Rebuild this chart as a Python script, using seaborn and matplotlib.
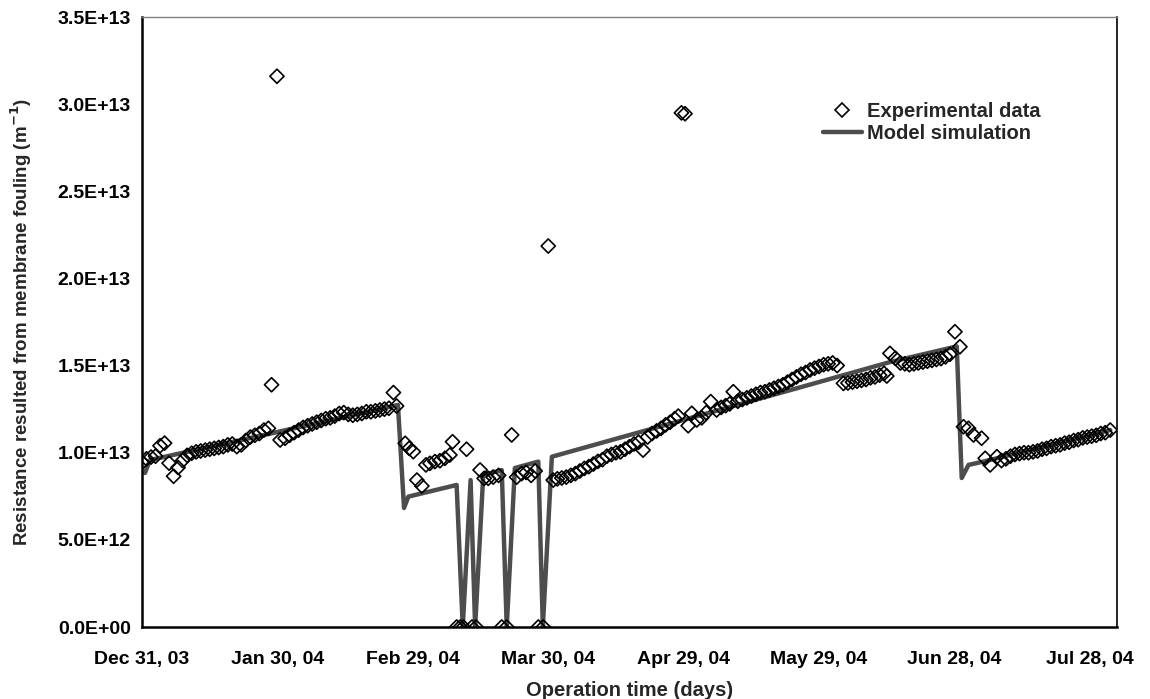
import numpy as np
import pandas as pd
import matplotlib
matplotlib.use("Agg")
import matplotlib.pyplot as plt
import seaborn as sns
from matplotlib.lines import Line2D
from matplotlib.ticker import FuncFormatter

# ---------------- data (days since Dec 31, 2003; values in 1e12 m^-1) ----------------
exp_days = [0, 1, 2, 3, 4, 5, 6, 7, 8, 9, 10,
            11, 12, 13, 14, 15, 16, 17, 18, 19, 20, 21, 22, 23, 24, 25, 26, 27, 28, 28.7, 29.9, 30.6,
            31.7, 32.7, 33.7, 34.7, 35.7, 36.7, 37.7, 38.7, 39.7, 40.7, 41.7, 42.7, 43.7, 44.7, 45.7,
            46.7, 47.7, 48.7, 49.7, 50.7, 51.7, 52.7, 53.7, 54.7, 55.7, 56.4,
            58.3, 59.2, 60.1, 60.9, 62.0, 62.9, 63.8, 64.9, 66.0, 67.1, 68.2, 68.8,
            69.7, 70.5, 71.2, 71.9, 73.1, 74.0, 74.9, 75.8, 76.7, 77.8, 79.0, 79.7, 80.8,
            81.9, 83.0, 84.1, 85.1, 86.2, 87.1, 87.8, 88.9, 90.0,
            91.1, 92, 93, 94, 95, 96, 97, 98, 99, 100, 101, 102, 103, 104, 105, 106, 107, 108,
            109, 110, 111, 112, 113, 114, 115, 116, 117, 118, 118.8, 119.5, 120.3, 121, 121.8,
            122.9, 124, 125, 126, 127.3, 128.3, 129.3, 130.2, 131, 132, 133, 134, 135, 136, 137,
            138, 139, 140, 141, 142, 143, 144, 145, 146, 147, 148, 149, 150, 151, 152, 153, 154,
            155.4, 156.4, 157.4, 158.4, 159.4, 160.4, 161.4, 162.4, 163.4, 164.4, 165, 165.7, 166.9,
            168, 169, 170, 171, 172, 173, 174, 175, 176, 177, 178, 179, 180.1, 181.2,
            182, 183.1, 184.2, 186, 186.8, 187.9,
            189.4, 190.4, 191.4, 192.4, 193.4, 194.4, 195.4, 196.4, 197.4, 198.4, 199.4, 200.4,
            201.4, 202.4, 203.4, 204.4, 205.4, 206.4, 207.4, 208.4, 209.4, 210.4, 211.4, 212.4,
            213.4, 214.5]
exp_values = [9.45, 9.65, 9.75, 9.8, 10.4, 10.55, 9.4, 8.65, 9.15, 9.55, 9.85,
              9.97, 10.05, 10.1, 10.15, 10.2, 10.25, 10.3, 10.35, 10.45, 10.5, 10.35, 10.45, 10.7,
              10.9, 11.0, 11.1, 11.3, 11.4, 13.9, 31.6, 10.73,
              10.83, 11.0, 11.15, 11.3, 11.45, 11.55, 11.65, 11.75, 11.85, 11.95, 12.0, 12.1, 12.25,
              12.3, 12.2, 12.15, 12.2, 12.25, 12.35, 12.35, 12.4, 12.45, 12.5, 12.55, 13.45, 12.68,
              10.54, 10.25, 10.06, 8.43, 8.09, 9.30, 9.39, 9.49, 9.54, 9.68, 9.87, 10.63,
              0, 0, 0, 10.2, 0, 0, 9.01, 8.53, 8.53, 8.6, 8.7, 0, 0,
              11.02, 8.6, 8.8, 8.87, 8.7, 8.95, 0, 0, 21.86,
              8.43, 8.5, 8.55, 8.6, 8.7, 8.8, 8.95, 9.1, 9.2, 9.35, 9.5, 9.6, 9.8, 9.9, 10.0, 10.05,
              10.2, 10.35, 10.5, 10.6, 10.15, 10.9, 11.1, 11.25, 11.4, 11.6, 11.75, 11.95, 12.1,
              29.5, 29.45, 11.55, 12.26,
              11.88, 12.0, 12.3, 12.93, 12.45, 12.6, 12.7, 12.8, 13.5, 12.95, 13.05, 13.15, 13.25,
              13.35, 13.45, 13.5, 13.6, 13.7, 13.8, 13.9, 14.05, 14.2, 14.35, 14.5, 14.6, 14.75,
              14.85, 14.95, 15.05, 15.1, 15.15, 15.0,
              13.98, 14.0, 14.05, 14.1, 14.15, 14.2, 14.3, 14.35, 14.45, 14.55, 14.4, 15.7, 15.42,
              15.15, 15.1, 15.05, 15.1, 15.15, 15.2, 15.25, 15.3, 15.35, 15.4, 15.5, 15.65, 16.94,
              16.08, 11.49, 11.4, 11.02, 10.83, 9.68, 9.3,
              9.77, 9.55, 9.65, 9.8, 9.9, 9.95, 10.0, 10.0, 10.05, 10.1, 10.2, 10.25,
              10.35, 10.4, 10.45, 10.55, 10.6, 10.7, 10.75, 10.85, 10.9, 10.95, 11.0, 11.1,
              11.15, 11.3]

model_days = [0.66, 1.77, 29.0, 56.7, 58.05, 59.0, 69.7, 71.06, 72.8, 73.8, 75.6, 79.7, 80.8,
              82.6, 87.8, 88.8, 90.8, 145.8, 165.7, 180.5, 181.6, 183.1, 186.4, 214.5]
model_values = [8.84, 9.58, 11.13, 12.74, 6.83, 7.48, 8.15, 0.0, 8.43, 0.0, 8.72, 9.0, 0.0,
                9.12, 9.49, 0.0, 9.77, 13.75, 15.2, 16.1, 8.55, 9.3, 9.49, 11.3]

tick_days = [0, 30, 60, 90, 120, 150, 180, 210]
tick_labels = ["Dec 31, 03", "Jan 30, 04", "Feb 29, 04", "Mar 30, 04",
               "Apr 29, 04", "May 29, 04", "Jun 28, 04", "Jul 28, 04"]

# ---------------- plotting ----------------
sns.set_theme(style="white")
plt.rcParams["font.family"] = ["Liberation Sans", "DejaVu Sans"]
plt.rcParams["font.weight"] = "bold"

exp_df = pd.DataFrame({"day": exp_days, "R": np.array(exp_values) * 1e12})
mod_df = pd.DataFrame({"day": model_days, "R": np.array(model_values) * 1e12})

fig = plt.figure(figsize=(11.5, 6.99), dpi=100)
ax = fig.add_axes([142 / 1150, 1 - 627 / 699, (1117 - 142) / 1150, (627 - 17) / 699])

line_color = "#4d4d4d"
sns.lineplot(data=mod_df, x="day", y="R", ax=ax, color=line_color, linewidth=3.2,
             estimator=None, sort=False, zorder=2)
sns.scatterplot(data=exp_df, x="day", y="R", ax=ax, marker="D", s=52,
                facecolors="none", edgecolor="black", linewidth=1.2, zorder=3)

ax.set_xlim(0, 216)
ax.set_ylim(0, 3.5e13)
ax.set_xticks(tick_days)
ax.set_xticklabels(tick_labels)
ax.set_yticks(np.arange(0, 3.51e13, 0.5e13))
ax.yaxis.set_major_formatter(FuncFormatter(lambda v, p: f"{v:.1E}"))

ax.tick_params(axis="both", direction="in", length=6, width=1, color="#555555",
               labelsize=14, labelcolor="black")
ax.tick_params(axis="y", pad=8)
ax.tick_params(axis="x", pad=17)
for lab in ax.get_xticklabels() + ax.get_yticklabels():
    lab.set_fontweight("bold")

for side in ["left", "bottom"]:
    ax.spines[side].set_color("black")
    ax.spines[side].set_linewidth(1.8)
ax.spines["right"].set_color("black")
ax.spines["right"].set_linewidth(1.2)
ax.spines["top"].set_color("#808080")
ax.spines["top"].set_linewidth(1.0)

ax.set_xlabel("")
ax.set_ylabel("")
fig.text((142 + 1117) / 2 / 1150, 1 - 690 / 699, "Operation time (days)", ha="center",
         va="center", fontsize=14.5, fontweight="bold")
fig.text(21 / 1150, 1 - 322 / 699, "Resistance resulted from membrane fouling (m$^{\\mathbf{-1}}$)",
         ha="center", va="center", rotation=90, fontsize=13.5, fontweight="bold")

handles = [
    Line2D([], [], marker="D", linestyle="none", markerfacecolor="none",
           markeredgecolor="black", markeredgewidth=1.2, markersize=7.2),
    Line2D([], [], color=line_color, linewidth=3.2),
]
ax.legend(handles, ["Experimental data", "Model simulation"], loc="upper left",
          bbox_to_anchor=(0.698, 0.86), frameon=False,
          prop={"weight": "bold", "size": 14.5}, handlelength=1.95, handletextpad=0.25,
          labelspacing=0.12, borderpad=0, borderaxespad=0)

fig.savefig("out.png", dpi=100)
